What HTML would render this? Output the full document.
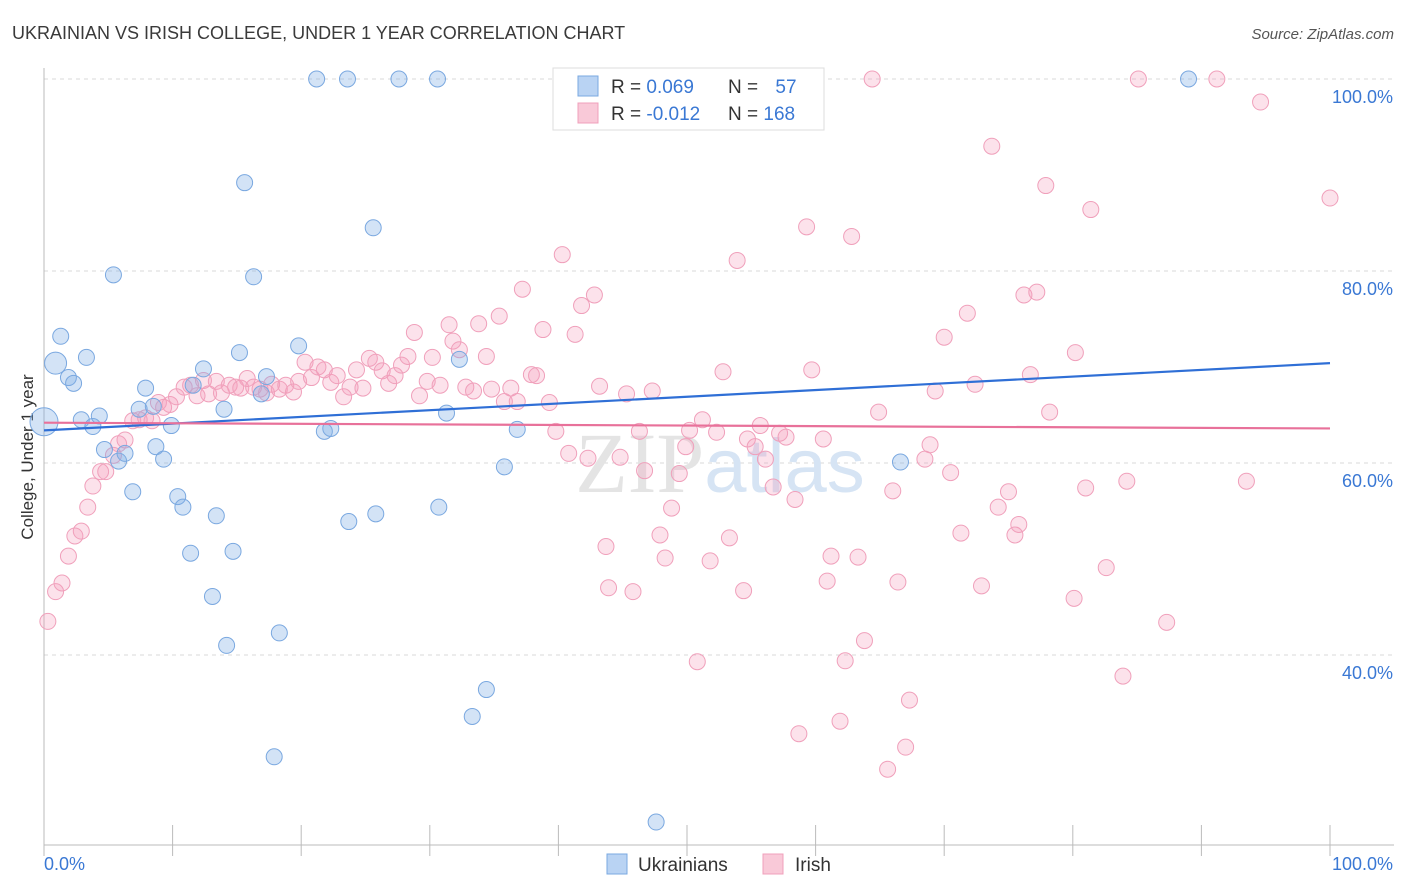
<!DOCTYPE html>
<html><head><meta charset="utf-8">
<style>
body{margin:0;background:#fff;width:1406px;height:892px;overflow:hidden;font-family:"Liberation Sans",sans-serif;}
svg{display:block}
</style></head>
<body>
<svg id="chart" width="1406" height="892" xmlns="http://www.w3.org/2000/svg">
<text x="12" y="39" font-size="18" fill="#3a3a3a">UKRAINIAN VS IRISH COLLEGE, UNDER 1 YEAR CORRELATION CHART</text>
<text x="1394" y="39" font-size="15" fill="#555" text-anchor="end" font-style="italic">Source: ZipAtlas.com</text>
<text transform="translate(33,457) rotate(-90)" font-size="17" fill="#333" text-anchor="middle">College, Under 1 year</text>
<g id="grid"></g>
<g id="axes"></g>
<text x="720" y="492" font-size="86" text-anchor="middle" fill="#e4e4e4" font-family="Liberation Serif,serif">ZIP<tspan fill="#d6e4f4" font-family="Liberation Sans,sans-serif" font-size="76">atlas</tspan></text>
<g id="pinkpts"></g>
<g id="bluepts"></g>
<g id="trends"></g>
<g>
<rect x="553" y="68" width="271" height="62" fill="#fff" stroke="#ddd"/>
<rect x="578" y="76" width="20" height="20" fill="#b9d3f3" stroke="#7aa8e0"/>
<rect x="578" y="103" width="20" height="20" fill="#f9c9d8" stroke="#f0a0bb"/>
<text x="611" y="93" font-size="19" fill="#333">R = <tspan fill="#3a78d4">0.069</tspan></text>
<text x="728" y="93" font-size="19" fill="#333">N = <tspan fill="#3a78d4" dx="12">57</tspan></text>
<text x="611" y="120" font-size="19" fill="#333">R = <tspan fill="#3a78d4">-0.012</tspan></text>
<text x="728" y="120" font-size="19" fill="#333">N = <tspan fill="#3a78d4">168</tspan></text>
</g>
<g>
<rect x="607" y="854" width="20" height="20" fill="#b9d3f3" stroke="#7aa8e0"/>
<text x="638" y="871" font-size="19" fill="#333">Ukrainians</text>
<rect x="763" y="854" width="20" height="20" fill="#f9c9d8" stroke="#f0a0bb"/>
<text x="795" y="871" font-size="19" fill="#333">Irish</text>
</g>
</svg>
<script>
const yTicks=[40,60,80,100];
const yTickLabels=["40.0%","60.0%","80.0%","100.0%"];
const xTickLabels=["0.0%","100.0%"];
const blueX=[0,0.9,1.3,3.3,1.9,2.3,2.9,3.8,4.3,5.4,4.7,5.8,6.3,6.9,7.4,7.9,8.5,8.7,9.3,9.9,10.4,10.8,11.6,11.4,12.4,13.4,13.1,14.0,14.2,14.7,15.2,15.6,16.3,16.9,17.3,17.9,18.3,19.8,21.2,21.8,22.3,23.6,23.7,25.6,25.8,27.6,30.6,30.7,31.3,32.3,33.3,34.4,35.8,36.8,47.6,66.6,89.0];
const blueY=[64.3,70.4,73.2,71.0,68.9,68.3,64.5,63.8,64.9,79.6,61.4,60.2,61.0,57.0,65.6,67.8,65.9,61.7,60.4,63.9,56.5,55.4,68.1,50.6,69.8,54.5,46.1,65.6,41.0,50.8,71.5,89.2,79.4,67.2,69.0,29.4,42.3,72.2,100,63.3,63.6,100,53.9,84.5,54.7,100,100,55.4,65.2,70.8,33.6,36.4,59.6,63.5,22.6,60.1,100];
const pinkX=[0.3,0.9,1.4,1.9,2.4,2.9,3.4,3.8,4.4,4.8,5.4,5.8,6.3,6.9,7.4,7.9,8.4,8.9,9.3,9.8,10.3,10.9,11.4,11.9,12.4,12.8,13.4,13.8,14.4,14.9,15.3,15.8,16.3,16.8,17.3,17.7,18.3,18.8,19.4,19.8,20.3,20.8,21.3,21.8,22.3,22.8,23.3,23.8,24.3,24.8,25.3,25.8,26.3,26.8,27.3,27.8,28.3,28.8,29.2,29.8,30.2,30.8,31.5,31.8,32.3,32.8,33.4,33.8,34.4,34.8,35.4,35.8,36.3,36.8,37.2,37.9,38.3,38.8,39.3,39.8,40.3,40.8,41.3,41.8,42.3,42.8,43.2,43.7,43.9,44.8,45.3,45.8,46.3,46.7,47.3,47.9,48.3,48.8,49.4,49.9,50.2,50.8,51.2,51.8,52.3,52.8,53.3,53.9,54.4,54.7,55.3,55.7,56.1,56.7,57.2,57.7,58.4,58.7,59.3,59.7,60.6,60.9,61.2,61.9,62.3,62.8,63.3,63.8,64.4,64.9,65.6,66.0,66.4,67.0,67.3,68.5,68.9,69.3,70.0,70.5,71.3,71.8,72.4,72.9,73.7,74.2,75.0,75.5,75.8,76.2,76.7,77.2,77.9,78.2,80.1,80.2,81.0,81.4,82.6,83.9,84.2,85.1,87.3,91.2,93.5,94.6,100];
const pinkY=[43.5,46.6,47.5,50.3,52.4,52.9,55.4,57.6,59.1,59.1,60.8,62.0,62.4,64.4,64.5,64.7,64.4,66.3,65.8,66.1,66.9,67.9,68.1,67.0,68.6,67.2,68.5,67.3,68.1,67.9,67.8,68.8,67.9,67.7,67.3,68.2,67.7,68.1,67.4,68.5,70.5,68.9,70.0,69.7,68.4,69.1,66.9,67.9,69.7,67.8,70.9,70.5,69.6,68.3,69.1,70.2,71.1,73.6,67.0,68.5,71.0,68.1,74.4,72.7,71.8,67.9,67.5,74.5,71.1,67.7,75.3,66.4,67.8,66.4,78.1,69.2,69.1,73.9,66.3,63.3,81.7,61.0,73.4,76.4,60.5,77.5,68.0,51.3,47.0,60.6,67.2,46.6,63.3,59.2,67.5,52.5,50.1,55.3,58.9,61.7,63.4,39.3,64.5,49.8,63.2,69.5,52.2,81.1,46.7,62.5,61.7,63.9,60.4,57.5,63.1,62.7,56.2,31.8,84.6,69.7,62.5,47.7,50.3,33.1,39.4,83.6,50.2,41.5,100,65.3,28.1,57.1,47.6,30.4,35.3,60.4,61.9,67.5,73.1,59.0,52.7,75.6,68.2,47.2,93.0,55.4,57.0,52.5,53.6,77.5,69.2,77.8,88.9,65.3,45.9,71.5,57.4,86.4,49.1,37.8,58.1,100,43.4,100,58.1,97.6,87.6];
const blueTrend=[63.4,70.4];
const pinkTrend=[64.2,63.6];

const NS="http://www.w3.org/2000/svg";
const X0=44,X1=1330,Y100=79,YPX=9.6;
const xs=v=>X0+v*(X1-X0)/100;
const ys=v=>Y100+(100-v)*YPX;
function mk(tag,attrs,parent){const e=document.createElementNS(NS,tag);for(const k in attrs)e.setAttribute(k,attrs[k]);parent.appendChild(e);return e;}
const grid=document.getElementById('grid');
yTicks.forEach((t,i)=>{
  const l=mk('line',{x1:X0,x2:1394,y1:ys(t),y2:ys(t),stroke:'#d8d8d8','stroke-dasharray':'4,4'},grid);
  
  
  const tx=mk('text',{x:1393,y:ys(t)+24,'font-size':18,fill:'#3a78d4','text-anchor':'end'},grid);
  tx.textContent=yTickLabels[i];
  
  
});
const axes=document.getElementById('axes');
mk('line',{x1:X0,x2:X0,y1:68,y2:845,stroke:'#bbb'},axes);
mk('line',{x1:X0,x2:1394,y1:845,y2:845,stroke:'#bbb'},axes);
for(let i=0;i<=10;i++){mk('line',{x1:xs(i*10),x2:xs(i*10),y1:825,y2:856,stroke:'#bbb'},axes);}
const xl0=mk('text',{x:44,y:870,'font-size':18,fill:'#3a78d4'},axes);xl0.textContent=xTickLabels[0];


const xl1=mk('text',{x:1393,y:870,'font-size':18,fill:'#3a78d4','text-anchor':'end'},axes);xl1.textContent=xTickLabels[1];



const pg=document.getElementById('pinkpts');
pinkX.forEach((v,i)=>{
  const c=mk('circle',{cx:xs(v),cy:ys(pinkY[i]),r:8,fill:'rgba(244,160,190,0.3)',stroke:'#f0a0bb','stroke-width':1},pg);
  
  
});
const bg=document.getElementById('bluepts');
blueX.forEach((v,i)=>{
  const c=mk('circle',{cx:xs(v),cy:ys(blueY[i]),r:i===0?14:(i===1?11:8),fill:'rgba(130,175,230,0.35)',stroke:'#7aa8e0','stroke-width':1},bg);
  
  
});
const tg=document.getElementById('trends');
const bl=mk('line',{x1:xs(0),x2:xs(100),y1:ys(blueTrend[0]),y2:ys(blueTrend[1]),stroke:'#2f6fd6','stroke-width':2.2},tg);


const pl=mk('line',{x1:xs(0),x2:xs(100),y1:ys(pinkTrend[0]),y2:ys(pinkTrend[1]),stroke:'#e8719a','stroke-width':2.2},tg);


</script>
</body></html>
